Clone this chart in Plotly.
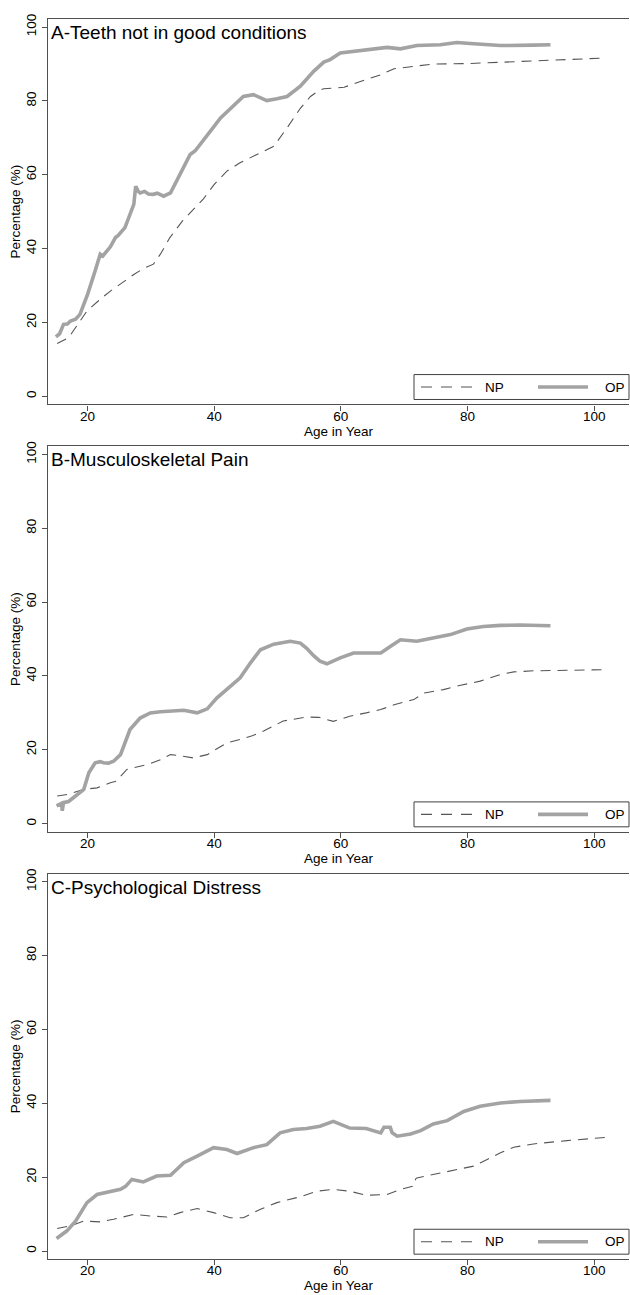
import plotly.graph_objects as go

# ---------------- data ----------------
titles = ["A-Teeth not in good conditions", "B-Musculoskeletal Pain", "C-Psychological Distress"]
series_names = ["NP", "OP"]

a_op_age = [15, 15.6, 16.2, 16.8, 17.3, 18.1, 18.8, 20, 21.2, 22, 22.4, 23.1, 23.6, 24.4, 24.8,
            25.9, 26.7, 27.3, 27.6, 28, 28.3, 29, 29.6, 30.4, 31, 32, 33.1, 34.1, 35.2, 36.2, 37,
            37.8, 38.5, 39.4, 41, 42, 43.1, 44.6, 46.2, 47.3, 48.3, 49.9, 51.5, 53.6, 55.7, 57.3,
            58.3, 59.9, 62, 65.2, 67.3, 69.4, 72, 75.7, 78.3, 81, 85.2, 90.4, 93.1]
a_op_val = [16.1, 17, 19.5, 19.6, 20.4, 20.9, 22.2, 27.6, 34, 38.5, 38, 39.4, 40.5, 43, 43.5,
            45.7, 49.3, 52, 56.9, 55.5, 55.1, 55.5, 54.8, 54.7, 55, 54.2, 55.1, 58.3, 62.3, 65.5, 66.5,
            68.2, 69.5, 71.8, 75.4, 77, 79, 81.2, 81.7, 80.8, 80.1, 80.6, 81.2, 84, 88, 90.5,
            91.2, 93, 93.4, 93.9, 94.5, 94.1, 95, 95.2, 95.8, 95.5, 95, 95.1, 95.2]
a_np_age = [15.2, 17, 18.3, 19.9, 22, 23.6, 25.5, 27.3, 29, 30.4, 31.5, 33, 35, 37, 38.3, 40,
            42, 44, 46.2, 49.4, 51.5, 53.6, 55.2, 56.5, 57.3, 60.5, 63.2, 66.3, 68.4, 71, 74.6,
            79.9, 85.2, 90.4, 95.7, 101.5]
a_np_val = [14.3, 15.9, 19.1, 23.1, 26.3, 28.5, 30.8, 33, 34.8, 35.8, 38.5, 43, 47.5, 51, 53.5, 57.4,
            61, 63.2, 65, 67.7, 72.7, 78, 81.2, 82.8, 83.3, 83.7, 85.3, 87.1, 88.7, 89.3, 90,
            90.1, 90.5, 90.9, 91.3, 91.6]

b_op_age = [15.1, 15.9, 16.0, 16.2, 17, 17.8, 18.6, 19.4, 20.2, 21.2, 22, 22.5, 23.3, 24.1, 25.2,
            26, 26.7, 28.3, 29.9, 31.5, 33.6, 35.2, 37.3, 38.9, 40.4, 42.5, 44.1, 45.7, 47.3, 49.4,
            52, 53.6, 54.6, 55.7, 56.7, 57.8, 59.9, 62, 64.6, 66.3, 67.8, 69.4, 72, 74.6, 77.3,
            79.9, 82.5, 85.2, 88.3, 93.1]
b_op_val = [4.8, 5.5, 3.5, 5.7, 6, 7, 8, 9.3, 13.8, 16.5, 16.8, 16.5, 16.4, 16.9, 18.7,
            22, 25.5, 28.6, 30, 30.3, 30.5, 30.7, 30, 31.1, 34, 37.2, 39.5, 43.5, 47.1, 48.6,
            49.4, 48.9, 47.5, 45.5, 44, 43.3, 44.9, 46.2, 46.2, 46.2, 48, 49.8, 49.4, 50.3, 51.2,
            52.7, 53.4, 53.7, 53.8, 53.6]
b_np_age = [15.2, 16.8, 19.4, 21.5, 23.6, 24.5, 26.2, 29.4, 31.5, 33.1, 35, 36.7, 38.9, 40.5, 42,
            44.1, 46, 47.8, 50.9, 54.6, 56.5, 58.8, 61.4, 64, 66.3, 68.4, 71.5, 73.2, 76.2, 78.9,
            82, 85.2, 87.3, 90.4, 95.7, 102]
b_np_val = [7.5, 7.9, 9.3, 9.7, 11.1, 11.5, 14.7, 16, 17.3, 18.7, 18.3, 17.8, 18.7, 20.3, 21.9,
            22.8, 23.8, 25.1, 27.8, 28.9, 28.8, 27.7, 29.1, 30, 30.9, 32.2, 33.6, 35.4, 36.3, 37.5,
            38.6, 40.4, 41.1, 41.4, 41.6, 41.7]

c_op_age = [15.1, 16.7, 18.1, 19.9, 21.5, 23.6, 25.2, 26, 27, 28.8, 30.9, 33.1, 35.2, 37.3, 39.9,
            42, 43.6, 46.2, 48.3, 50.4, 52.5, 54.6, 56.7, 58.8, 61.4, 64, 66.3, 66.8, 67.8, 68.1,
            68.9, 71, 72.6, 74.6, 76.8, 79.4, 82, 85.2, 88.3, 93.1]
c_op_val = [3.4, 5.4, 8.1, 13.1, 15.3, 16.2, 16.7, 17.5, 19.4, 18.7, 20.3, 20.5, 23.9, 25.7, 28,
            27.5, 26.4, 28, 28.8, 32, 32.9, 33.2, 33.8, 35.1, 33.3, 33.2, 32, 33.5, 33.5, 32,
            31.1, 31.7, 32.6, 34.4, 35.3, 37.8, 39.2, 40.1, 40.5, 40.8]
c_np_age = [15.2, 17.3, 19.4, 22, 24.1, 27.3, 29.9, 32.5, 34.6, 37.3, 39.9, 42.5, 44.6, 47.3, 49.9,
            53.6, 56.2, 58.8, 61.4, 64, 67.3, 69.4, 71.5, 71.8, 72, 74.6, 77.3, 81, 83.1, 85.2,
            87.3, 90.4, 95.7, 102]
c_np_val = [6.1, 6.8, 8.1, 7.9, 8.6, 9.9, 9.5, 9.2, 10.4, 11.5, 10.4, 9, 9, 11.3, 13.1,
            14.7, 16.2, 16.7, 16.2, 15.1, 15.3, 16.7, 17.6, 19.5, 19.8, 20.7, 21.8, 23, 24.8, 26.6,
            28.1, 29, 29.9, 30.8]

x_ticks = [20, 40, 60, 80, 100]
y_ticks = [0, 20, 40, 60, 80, 100]
x_title = "Age in Year"
y_title = "Percentage (%)"

# ---------------- styling ----------------
W, H = 630, 1295
FONT = "Arial, Liberation Sans, sans-serif"
FS = 13.5
OP_COLOR = "#a3a3a3"
NP_COLOR = "#555555"
FRAME = "#505050"
NP_DASH = "10px,7px"

panel_tops = [14, 443, 872]
panel_h = 387
x_left, x_right = 48, 629

def px_x(p):
    return p / W

def px_y(p):
    return 1 - p / H

panels = [
    (a_np_age, a_np_val, a_op_age, a_op_val),
    (b_np_age, b_np_val, b_op_age, b_op_val),
    (c_np_age, c_np_val, c_op_age, c_op_val),
]

fig = go.Figure()
layout = dict(
    width=W, height=H, margin=dict(l=0, r=0, t=0, b=0),
    paper_bgcolor="white", plot_bgcolor="white",
    font=dict(family=FONT, size=FS, color="black"),
    showlegend=False,
)
shapes = []
annotations = []

for i, (np_x, np_y, op_x, op_y) in enumerate(panels):
    k = "" if i == 0 else str(i + 1)
    xa, ya = "x" + k, "y" + k
    fig.add_trace(go.Scatter(x=np_x, y=np_y, mode="lines", name=series_names[0],
                             xaxis=xa, yaxis=ya,
                             line=dict(color=NP_COLOR, width=1.1, dash=NP_DASH)))
    fig.add_trace(go.Scatter(x=op_x, y=op_y, mode="lines", name=series_names[1],
                             xaxis=xa, yaxis=ya,
                             line=dict(color=OP_COLOR, width=3.6)))
    top = panel_tops[i]
    bot = top + panel_h
    layout["xaxis" + k] = dict(
        domain=[px_x(x_left), px_x(x_right)], anchor=ya, range=[13.75, 105.5],
        tickvals=x_ticks, ticks="outside", ticklen=5, tickcolor=FRAME, tickwidth=1,
        showline=True, linecolor=FRAME, linewidth=1.3, mirror=True,
        showgrid=False, zeroline=False, ticklabelstandoff=-6,
        tickfont=dict(size=FS, family=FONT),
        title=dict(text=x_title, font=dict(size=FS, family=FONT), standoff=0),
    )
    layout["yaxis" + k] = dict(
        domain=[px_y(bot), px_y(top)], anchor=xa, range=[-2.2, 102.2],
        tickvals=y_ticks, ticks="outside", ticklen=5, tickcolor=FRAME, tickwidth=1,
        tickangle=-90,
        showline=True, linecolor=FRAME, linewidth=1.3, mirror=False,
        showgrid=False, zeroline=False,
        tickfont=dict(size=FS, family=FONT),
        title=dict(text=y_title, font=dict(size=FS, family=FONT), standoff=0),
    )
    # panel title
    annotations.append(dict(
        text=titles[i], x=px_x(x_left + 1), y=px_y(top + 1), xref="paper", yref="paper",
        xanchor="left", yanchor="top", showarrow=False,
        font=dict(size=19, family=FONT, color="black")))
    # legend box
    lb_top, lb_bot = bot - 30, bot - 5
    ly = px_y((lb_top + lb_bot) / 2)
    shapes.append(dict(type="rect", xref="paper", yref="paper",
                       x0=px_x(414), x1=px_x(629), y0=px_y(lb_bot), y1=px_y(lb_top),
                       line=dict(color="#404040", width=1), fillcolor="white", layer="above"))
    shapes.append(dict(type="line", xref="paper", yref="paper",
                       x0=px_x(421), x1=px_x(472), y0=ly, y1=ly, layer="above",
                       line=dict(color=NP_COLOR, width=1.1, dash="11px,9px")))
    shapes.append(dict(type="line", xref="paper", yref="paper",
                       x0=px_x(538), x1=px_x(588), y0=ly, y1=ly, layer="above",
                       line=dict(color=OP_COLOR, width=3.6)))
    annotations.append(dict(text=series_names[0], x=px_x(483), y=ly, xref="paper", yref="paper",
                            xanchor="left", yanchor="middle", showarrow=False,
                            font=dict(size=FS, family=FONT, color="black")))
    annotations.append(dict(text=series_names[1], x=px_x(603), y=ly, xref="paper", yref="paper",
                            xanchor="left", yanchor="middle", showarrow=False,
                            font=dict(size=FS, family=FONT, color="black")))

layout["shapes"] = shapes
layout["annotations"] = annotations
fig.update_layout(**layout)
fig.write_html("out.html", config={"displayModeBar": False},
               post_script="document.body.style.margin='0px';document.body.style.overflow='hidden';")
